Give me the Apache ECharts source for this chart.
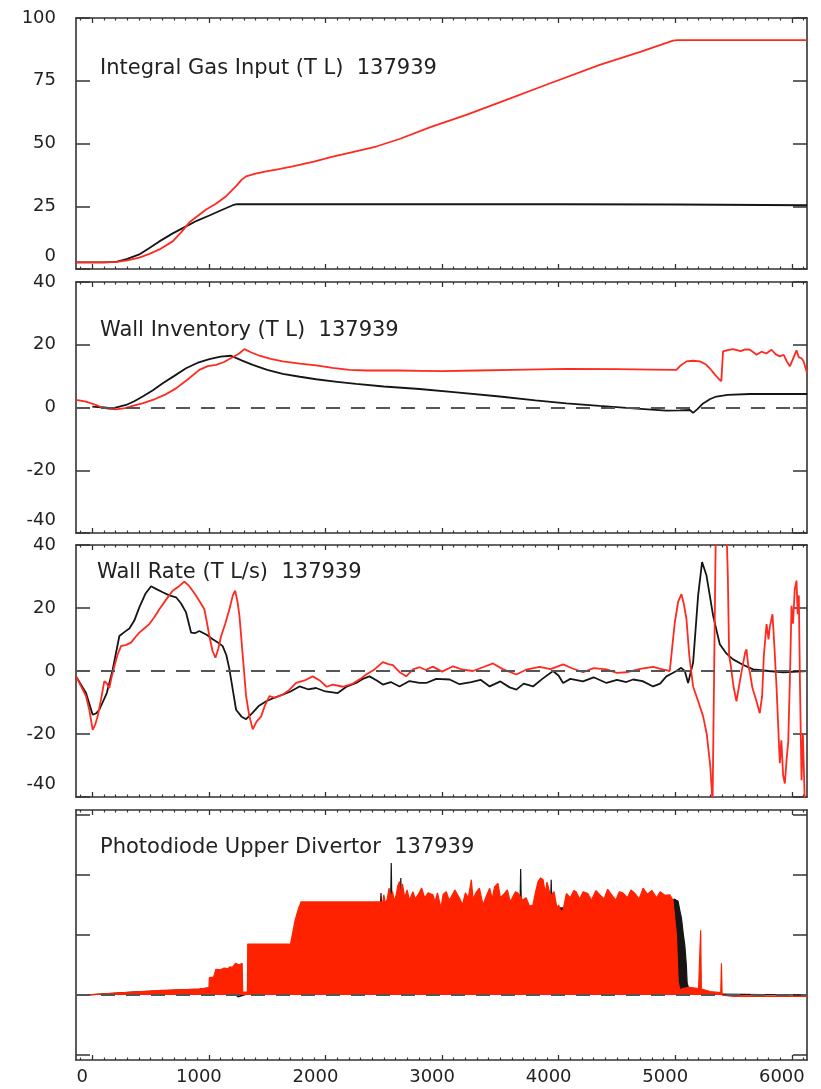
<!DOCTYPE html>
<html><head><meta charset="utf-8">
<script src="https://cdn.jsdelivr.net/npm/echarts@6/dist/echarts.min.js"></script>
<style>html,body{margin:0;padding:0;background:#fff}#c{width:821px;height:1089px}</style>
</head><body><div id="c"></div>
<script>
// ---------------- data ----------------
const titles = [
  'Integral Gas Input (T L)  137939',
  'Wall Inventory (T L)  137939',
  'Wall Rate (T L/s)  137939',
  'Photodiode Upper Divertor  137939'
];
const xMajor = [0, 1000, 2000, 3000, 4000, 5000, 6000];
const gasTicks = [0, 25, 50, 75, 100];
const invTicks = [-40, -20, 0, 20, 40];
const rateTicks = [-40, -20, 0, 20, 40];
const photoTicks = [-1, 0, 1, 2, 3];

const gasBlack = [[-140,2.6],[100,2.6],[206,2.8],[300,4],[403,5.8],[490,8.4],[575,11],[690,14.2],[804,17],[900,19.3],[1004,21.3],[1100,23.3],[1204,25.4],[1240,25.8],[2000,25.8],[3000,25.8],[4000,25.8],[5000,25.7],[6130,25.4]];
const gasRed = [[-140,2.6],[100,2.6],[206,2.8],[300,3.4],[403,4.5],[490,6],[575,7.8],[689,11],[760,14.5],[833,18.6],[900,21],[976,23.7],[1060,26],[1148,29],[1233,33],[1280,35.5],[1319,36.9],[1400,38],[1491,38.9],[1600,39.8],[1719,40.9],[1900,42.8],[2063,44.8],[2250,46.8],[2435,48.8],[2635,51.8],[2900,56.5],[3208,61.4],[3500,66.5],[3894,73.4],[4352,81.3],[4700,86.5],[4981,91],[5020,91.2],[6130,91.2]];

const invBlack = [[0,0.3],[100,0],[175,-0.3],[289,0.8],[360,2],[432,3.5],[520,5.5],[604,7.7],[700,10],[804,12.5],[900,14.2],[1004,15.4],[1100,16.2],[1190,16.5],[1280,15],[1376,13.6],[1500,12],[1633,10.7],[1780,9.8],[1919,9],[2100,8.2],[2263,7.5],[2500,6.7],[2807,5.9],[3100,4.9],[3494,3.5],[3800,2.3],[4066,1.3],[4350,0.5],[4638,-0.3],[4924,-1],[5040,-0.9],[5125,-0.8],[5153,-1.7],[5190,-0.5],[5239,1.3],[5300,2.7],[5353,3.5],[5450,4],[5640,4.3],[5900,4.3],[6131,4.3]];
const invRed = [[-140,2.4],[-54,1.9],[32,0.8],[75,0.1],[140,-0.4],[203,-0.6],[280,-0.2],[346,0.5],[430,1.3],[518,2.4],[620,4],[718,6.1],[820,9],[918,12],[990,13.2],[1062,13.6],[1130,14.5],[1204,16],[1260,17.2],[1304,18.6],[1360,17.6],[1433,16.5],[1530,15.5],[1633,14.7],[1780,14],[1919,13.4],[2060,12.6],[2206,12],[2350,11.8],[2492,11.8],[2635,11.8],[2807,11.7],[3000,11.6],[3300,11.8],[3600,12],[4066,12.3],[4500,12.2],[4800,12.1],[5010,12],[5040,13.2],[5096,14.7],[5150,14.9],[5210,14.7],[5260,13.8],[5296,12.5],[5340,10.5],[5376,9],[5395,8.4],[5410,17.9],[5450,18.3],[5496,18.6],[5560,18],[5600,18.5],[5640,18.4],[5670,17.6],[5697,16.8],[5740,17.8],[5780,17.2],[5826,18.4],[5860,17],[5897,16.3],[5930,16.8],[5960,14.5],[5983,13.1],[6010,15.5],[6040,18.2],[6060,16],[6083,15.7],[6100,14.8],[6131,10.9]];

const rateBlack = [[-140,-1.7],[-54,-7],[3,-13.9],[30,-13.5],[60,-12.3],[124,-7],[175,0.5],[232,11.1],[280,12.5],[318,13.5],[360,16],[403,20.2],[455,24.5],[504,26.9],[550,26],[604,25],[660,24],[718,23.4],[760,21.5],[804,18.6],[847,12.2],[880,12],[918,12.7],[980,11.5],[1033,10.1],[1080,9],[1118,7.9],[1150,5],[1176,0.5],[1205,-6],[1233,-12.3],[1280,-14.5],[1319,-15.3],[1376,-13.2],[1430,-11],[1491,-9.6],[1560,-8.5],[1633,-7.5],[1700,-6.5],[1777,-4.9],[1850,-5.8],[1919,-5.4],[2000,-6.5],[2105,-7],[2180,-5],[2263,-3.8],[2320,-2.5],[2378,-1.7],[2440,-3],[2492,-4.3],[2560,-3.5],[2635,-4.9],[2720,-3.2],[2807,-3.8],[2864,-3.8],[2950,-2.5],[3065,-2.7],[3150,-4.2],[3250,-3.5],[3330,-2.8],[3408,-4.9],[3500,-3.3],[3580,-5.2],[3637,-5.9],[3700,-4],[3780,-4.9],[3860,-2.5],[3952,0],[4000,-1.5],[4038,-3.8],[4100,-2.5],[4209,-3.3],[4300,-2],[4410,-3.8],[4500,-2.8],[4580,-3.5],[4638,-2.7],[4720,-3.2],[4810,-4.9],[4870,-4],[4924,-1.7],[4970,-0.8],[5010,0],[5050,1],[5082,0],[5110,-3.8],[5153,2.6],[5196,23.9],[5230,34.6],[5268,30.3],[5325,17.5],[5382,8.5],[5440,5.5],[5496,3.7],[5580,2],[5668,0.5],[5800,0],[5926,-0.4],[6131,0]];
const rateRed = [[-140,-1.7],[-54,-8],[-26,-12.3],[3,-18.7],[25,-17],[46,-14.4],[75,-9],[103,-3.2],[125,-4],[146,-5.4],[165,-2],[189,1.5],[215,5],[246,7.9],[290,8.3],[332,9],[370,10.8],[403,12.2],[445,13.5],[489,14.9],[530,17],[575,19.6],[630,22.5],[689,25.5],[740,26.8],[790,28.4],[830,27],[860,25.5],[890,23.9],[930,21.5],[961,19.6],[985,15],[1004,11.1],[1030,6.5],[1056,4.2],[1080,7],[1105,11.1],[1140,15],[1176,19.6],[1205,24],[1225,25.5],[1245,22],[1262,17.5],[1290,5],[1319,-8],[1345,-14],[1376,-18.5],[1410,-16],[1448,-14.4],[1480,-11],[1519,-8],[1570,-8.5],[1633,-7.5],[1690,-6],[1748,-3.8],[1820,-3],[1891,-1.7],[1950,-3],[2010,-5],[2063,-4.3],[2150,-5],[2235,-4],[2300,-2.5],[2349,-1.1],[2420,0.5],[2492,2.8],[2540,2.2],[2578,1.9],[2640,-0.5],[2692,-1.7],[2750,0.5],[2807,1.2],[2860,0.3],[2921,1.4],[3000,-0.2],[3093,1.5],[3180,0.4],[3265,0],[3350,1.2],[3437,2.4],[3520,0.6],[3637,-1.1],[3720,0.4],[3837,1.3],[3930,0.6],[4038,2.1],[4120,0.8],[4209,-0.4],[4300,0.9],[4410,0.5],[4500,-0.6],[4581,-0.4],[4700,0.7],[4810,1.3],[4900,0.4],[4953,0],[4975,8],[4996,15.4],[5025,22],[5053,24.4],[5075,21],[5096,16.5],[5120,5],[5153,-4.9],[5200,-10],[5239,-14.4],[5270,-20],[5300,-30],[5320,-42],[5335,-42],[5348,45],[5440,45],[5451,30],[5462,5],[5475,2],[5500,-5],[5525,-9.6],[5560,-2],[5600,6],[5611,6.9],[5625,2],[5640,-0.4],[5660,-5],[5668,-6.1],[5700,-10],[5725,-13.4],[5745,-8],[5760,5],[5783,14.9],[5800,10],[5811,14],[5834,18],[5850,8],[5869,-5.4],[5880,-15],[5897,-29.3],[5910,-22],[5925,-33],[5940,-35.7],[5955,-28],[5969,-22.5],[5985,0],[5997,20.7],[6010,15],[6025,26],[6040,28.7],[6050,18],[6060,24],[6070,-5],[6083,-34.7],[6095,-20],[6111,-42],[6131,-42]];

const photoBlack = [[-69,0],[346,0.05],[918,0.1],[1004,0.12],[1064,0.14],[1110,0.2],[1148,0.25],[1175,0.2],[1204,0.04],[1250,-0.03],[1330,0.02],[1700,0.6],[1786,0.6],[1790,1.55],[1794,1.45],[2470,1.45],[2476,1.7],[2482,1.45],[2558,1.45],[2564,2.2],[2570,1.45],[2640,1.45],[2646,1.95],[2652,1.45],[3668,1.45],[3674,2.1],[3680,1.45],[3930,1.45],[3936,1.92],[3942,1.45],[4950,1.45],[4990,1.6],[5024,1.56],[5040,1.4],[5053,1.28],[5070,1.0],[5082,0.83],[5095,0.5],[5102,0.2],[5125,0.05],[5200,0.02],[6131,0]];
const photoRed = [[-69,0],[100,0.02],[346,0.05],[600,0.08],[918,0.1],[1000,0.12],[1004,0.29],[1040,0.3],[1060,0.43],[1100,0.42],[1130,0.45],[1160,0.44],[1180,0.47],[1200,0.46],[1230,0.53],[1260,0.5],[1285,0.53],[1290,0.05],[1330,0.05],[1333,0.85],[1700,0.85],[1705,0.9],[1740,1.25],[1770,1.45],[1791,1.55],[2492,1.55],[2500,1.67],[2515,1.52],[2530,1.6],[2545,1.78],[2560,1.62],[2575,1.72],[2590,1.56],[2607,1.67],[2620,1.82],[2635,1.89],[2648,1.6],[2660,1.85],[2680,1.62],[2700,1.75],[2720,1.58],[2750,1.72],[2770,1.6],[2800,1.69],[2825,1.78],[2850,1.62],[2880,1.7],[2921,1.67],[2940,1.55],[2960,1.7],[2990,1.45],[3010,1.68],[3036,1.72],[3060,1.58],[3080,1.64],[3110,1.75],[3150,1.61],[3175,1.5],[3200,1.7],[3225,1.62],[3251,1.92],[3265,1.6],[3290,1.7],[3320,1.78],[3351,1.5],[3380,1.65],[3408,1.78],[3430,1.6],[3450,1.8],[3479,1.86],[3500,1.62],[3530,1.68],[3560,1.75],[3585,1.55],[3608,1.64],[3630,1.72],[3650,1.7],[3690,1.58],[3720,1.62],[3750,1.48],[3780,1.5],[3800,1.7],[3823,1.89],[3845,1.95],[3866,1.92],[3885,1.7],[3900,1.88],[3930,1.65],[3960,1.72],[3985,1.45],[4000,1.5],[4020,1.38],[4038,1.42],[4066,1.69],[4100,1.62],[4130,1.74],[4150,1.72],[4180,1.6],[4210,1.72],[4250,1.69],[4280,1.58],[4320,1.74],[4352,1.67],[4390,1.6],[4420,1.76],[4450,1.68],[4490,1.58],[4520,1.72],[4550,1.7],[4590,1.62],[4620,1.75],[4650,1.7],[4690,1.6],[4724,1.78],[4760,1.68],[4800,1.74],[4840,1.62],[4870,1.72],[4910,1.66],[4953,1.67],[4980,1.58],[4996,1.56],[5010,1.0],[5025,0.22],[5040,0.08],[5060,0.11],[5120,0.13],[5200,0.11],[5212,0.1],[5218,1.08],[5224,0.1],[5300,0.06],[5390,0.04],[5396,0.53],[5402,0],[5500,-0.02],[6131,-0.02]];

// ---------------- layout ----------------
const X_MIN = -140, X_MAX = 6130;
const xMinor = [];
for (let v = -100; v <= 6100; v += 100) if (v % 1000 !== 0) xMinor.push(v);
const FRAME = '#333', TXT = '#222', BLACK = '#151515', RED = '#ff2a1f', FILL = '#ff2200';
const FONT = 'DejaVu Sans';
const grids = [
  {left:76, right:14, top:18, height:251},
  {left:76, right:14, top:282, height:251},
  {left:76, right:14, top:545, height:252},
  {left:76, right:14, top:810, height:250}
];
const yCfg = [
  {min:0, max:100, ticks:gasTicks, labels:true},
  {min:-40, max:40, ticks:invTicks, labels:true},
  {min:-40, max:40, ticks:rateTicks, labels:true},
  {min:-1.08, max:3.08, ticks:photoTicks, labels:false}
];
const titleY = [68.5, 331, 573, 848];
const titleX = [100, 100, 97, 100];

const xAxes = [], yAxes = [];
grids.forEach((g, i) => {
  const base = {type:'value', gridIndex:i, min:X_MIN, max:X_MAX, splitLine:{show:false}};
  const line = {show:true, onZero:false, lineStyle:{color:FRAME, width:1.6}};
  const noLine = {show:false, onZero:false};
  const majTick = {show:true, inside:true, length:5, customValues:xMajor, lineStyle:{color:FRAME, width:1.3}};
  const minTick = {show:true, inside:true, length:2.5, customValues:xMinor, lineStyle:{color:FRAME, width:1.2}};
  const lbl = i === 3 ? {
    show:true, customValues:xMajor, margin:8, color:TXT, fontFamily:FONT, fontSize:18,
    formatter: v => '{a|' + v + '}',
    rich:{a:{padding:[0,20,0,0], color:TXT, fontFamily:FONT, fontSize:18}}
  } : {show:false};
  xAxes.push(Object.assign({}, base, {position:'bottom', axisLine:line, axisTick:majTick, axisLabel:lbl}));
  xAxes.push(Object.assign({}, base, {position:'top', axisLine:line, axisTick:majTick, axisLabel:{show:false}}));
  xAxes.push(Object.assign({}, base, {position:'bottom', axisLine:noLine, axisTick:minTick, axisLabel:{show:false}}));
  xAxes.push(Object.assign({}, base, {position:'top', axisLine:noLine, axisTick:minTick, axisLabel:{show:false}}));
  const c = yCfg[i];
  const ybase = {type:'value', gridIndex:i, min:c.min, max:c.max, splitLine:{show:false}};
  const ytick = {show:true, inside:true, length:14, customValues:c.ticks, lineStyle:{color:FRAME, width:1.5}};
  const ylbl = c.labels ? {
    show:true, customValues:c.ticks, margin:20, color:TXT, fontFamily:FONT, fontSize:18,
    formatter: v => (v === c.min ? '{lo|' + v + '}' : '{n|' + v + '}'),
    rich:{
      lo:{padding:[0,0,25,0], color:TXT, fontFamily:FONT, fontSize:18},
      n:{color:TXT, fontFamily:FONT, fontSize:18}
    }
  } : {show:false};
  yAxes.push(Object.assign({}, ybase, {position:'left', axisLine:line, axisTick:ytick, axisLabel:ylbl}));
  yAxes.push(Object.assign({}, ybase, {position:'right', axisLine:line, axisTick:ytick, axisLabel:{show:false}}));
});

const zeroLine = {
  silent:true, symbol:['none','none'], label:{show:false}, animation:false,
  lineStyle:{type:[14,11], color:'#555', width:2}, data:[{yAxis:0}]
};
function lineSeries(i, data, color, opts) {
  return Object.assign({
    type:'line', xAxisIndex:4*i, yAxisIndex:2*i, data:data, showSymbol:false, symbol:'none',
    lineStyle:{color:color, width:1.8}, itemStyle:{color:color}, clip:true
  }, opts || {});
}
const series = [
  lineSeries(0, gasBlack, BLACK, {z:2}),
  lineSeries(0, gasRed, RED, {z:3}),
  lineSeries(1, invBlack, BLACK, {z:2, markLine:zeroLine}),
  lineSeries(1, invRed, RED, {z:3}),
  lineSeries(2, rateBlack, BLACK, {z:2, markLine:zeroLine}),
  lineSeries(2, rateRed, RED, {z:3}),
  lineSeries(3, photoBlack, BLACK, {z:2, markLine:zeroLine, lineStyle:{color:BLACK, width:1.2}, areaStyle:{color:BLACK, opacity:1}}),
  lineSeries(3, photoRed, FILL, {z:3, lineStyle:{color:FILL, width:1.2}, areaStyle:{color:FILL, opacity:1}})
];

const graphic = titles.map((t, i) => ({
  type:'text', x:titleX[i], y:titleY[i], z:100, silent:true,
  style:{text:t, fill:TXT, fontFamily:FONT, fontSize:21, verticalAlign:'middle', align:'left'}
}));

const chart = echarts.init(document.getElementById('c'), null, {renderer:'canvas'});
chart.setOption({
  animation:false,
  backgroundColor:'#fff',
  grid:grids,
  xAxis:xAxes,
  yAxis:yAxes,
  series:series,
  graphic:graphic
});
</script></body></html>
